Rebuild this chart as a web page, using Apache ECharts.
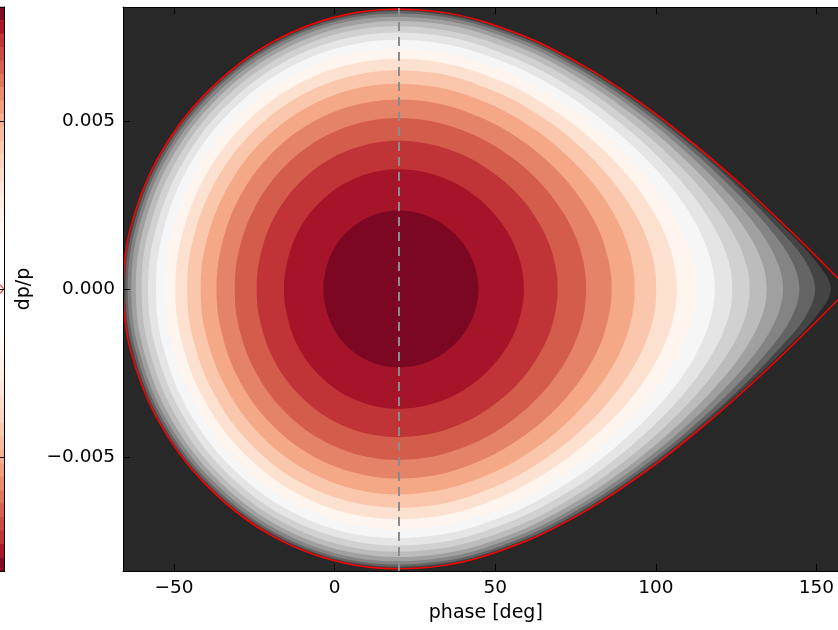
<!DOCTYPE html>
<html><head><meta charset="utf-8">
<script src="https://cdn.jsdelivr.net/npm/echarts@6/dist/echarts.min.js"></script>
<style>html,body{margin:0;padding:0;background:#fff}#c{width:838px;height:630px}</style>
</head><body><div id="c"></div>
<script>
// ---- data: [phase deg, dp/p] along the upper half of each contour (shape is mirror-symmetric in dp/p) ----
const contour1=[[-3.5,0],[-3.0,0.00047],[-0.9,0.00107],[3.0,0.00162],[9.0,0.00207],[16.2,0.00231],[23.8,0.00231],[30.7,0.00210],[36.0,0.00176],[39.8,0.00138],[42.3,0.00100],[43.7,0.00065],[44.4,0.00037],[44.7,0.00017],[44.8,0]];
const contour2=[[-15.8,0],[-15.0,0.00071],[-11.9,0.00162],[-5.8,0.00247],[3.2,0.00315],[14.2,0.00352],[25.8,0.00352],[36.3,0.00321],[44.6,0.00271],[50.6,0.00213],[54.7,0.00155],[57.1,0.00102],[58.3,0.00058],[58.8,0.00026],[58.9,0]];
const contour3=[[-24.3,0],[-23.4,0.00088],[-19.5,0.00201],[-12.0,0.00306],[-0.8,0.00391],[12.8,0.00436],[27.2,0.00436],[40.3,0.00398],[50.6,0.00337],[58.4,0.00267],[63.7,0.00195],[67.0,0.00129],[68.6,0.00074],[69.3,0.00033],[69.4,0]];
const contour4=[[-31.1,0],[-30.1,0.00102],[-25.5,0.00231],[-16.8,0.00353],[-4.0,0.00450],[11.7,0.00503],[28.3,0.00503],[43.4,0.00459],[55.4,0.00390],[64.6,0.00310],[71.1,0.00228],[75.2,0.00151],[77.3,0.00087],[78.1,0.00039],[78.3,0]];
const contour5=[[-36.8,0],[-35.6,0.00113],[-30.5,0.00257],[-20.9,0.00391],[-6.6,0.00499],[10.8,0.00557],[29.2,0.00558],[45.9,0.00509],[59.4,0.00434],[69.9,0.00347],[77.5,0.00256],[82.4,0.00171],[84.9,0.00098],[86.0,0.00044],[86.2,0]];
const contour6=[[-41.7,0],[-40.4,0.00123],[-34.7,0.00278],[-24.3,0.00423],[-8.8,0.00540],[10.0,0.00604],[30.0,0.00604],[48.1,0.00552],[62.8,0.00472],[74.4,0.00378],[83.1,0.00281],[88.8,0.00189],[91.9,0.00109],[93.1,0.00049],[93.4,0]];
const contour7=[[-45.9,0],[-44.5,0.00131],[-38.4,0.00297],[-27.2,0.00451],[-10.7,0.00576],[9.4,0.00643],[30.7,0.00644],[50.0,0.00588],[65.8,0.00504],[78.4,0.00406],[88.0,0.00303],[94.6,0.00205],[98.3,0.00119],[99.8,0.00053],[100.1,0]];
const contour8=[[-49.6,0],[-48.1,0.00138],[-41.6,0.00313],[-29.7,0.00475],[-12.3,0.00606],[8.8,0.00677],[31.2,0.00678],[51.6,0.00620],[68.3,0.00532],[81.9,0.00430],[92.5,0.00323],[99.9,0.00219],[104.2,0.00128],[106.0,0.00058],[106.5,0]];
const contour9=[[-52.8,0],[-51.2,0.00145],[-44.4,0.00327],[-31.9,0.00496],[-13.7,0.00633],[8.3,0.00707],[31.7,0.00707],[53.0,0.00648],[70.6,0.00557],[85.0,0.00452],[96.4,0.00341],[104.8,0.00233],[109.8,0.00136],[111.9,0.00062],[112.5,0]];
const contour10=[[-55.6,0],[-54.0,0.00150],[-46.8,0.00340],[-33.8,0.00515],[-14.9,0.00656],[7.9,0.00733],[32.1,0.00733],[54.2,0.00671],[72.5,0.00578],[87.6,0.00470],[100.0,0.00357],[109.3,0.00245],[115.0,0.00144],[117.6,0.00065],[118.3,0]];
const contour11=[[-58.1,0],[-56.3,0.00155],[-48.8,0.00350],[-35.4,0.00530],[-16.0,0.00675],[7.5,0.00754],[32.5,0.00755],[55.2,0.00691],[74.2,0.00596],[90.0,0.00486],[103.1,0.00371],[113.3,0.00256],[119.9,0.00151],[123.0,0.00069],[123.8,0]];
const contour12=[[-60.1,0],[-58.3,0.00159],[-50.6,0.00359],[-36.8,0.00543],[-16.8,0.00692],[7.2,0.00773],[32.8,0.00773],[56.1,0.00709],[75.6,0.00612],[92.0,0.00500],[105.8,0.00383],[116.9,0.00266],[124.5,0.00158],[128.2,0.00072],[129.2,0]];
const contour13=[[-61.9,0],[-60.0,0.00163],[-52.1,0.00367],[-37.9,0.00554],[-17.6,0.00705],[7.0,0.00788],[33.1,0.00789],[56.9,0.00723],[76.7,0.00625],[93.7,0.00512],[108.2,0.00393],[120.1,0.00275],[128.7,0.00165],[133.2,0.00076],[134.5,0]];
const contour14=[[-63.3,0],[-61.4,0.00165],[-53.3,0.00373],[-38.8,0.00563],[-18.2,0.00716],[6.7,0.00801],[33.3,0.00801],[57.4,0.00734],[77.7,0.00635],[95.0,0.00522],[110.1,0.00402],[122.8,0.00282],[132.5,0.00171],[137.9,0.00079],[139.6,0]];
const contour15=[[-64.4,0],[-62.4,0.00168],[-54.2,0.00377],[-39.6,0.00570],[-18.6,0.00725],[6.6,0.00810],[33.4,0.00811],[57.9,0.00743],[78.4,0.00643],[96.1,0.00529],[111.6,0.00409],[125.0,0.00288],[135.8,0.00175],[142.4,0.00082],[144.7,0]];
const contour16=[[-65.2,0],[-63.2,0.00169],[-54.9,0.00381],[-40.1,0.00575],[-18.9,0.00731],[6.5,0.00817],[33.5,0.00818],[58.2,0.00750],[79.0,0.00649],[96.9,0.00534],[112.7,0.00414],[126.7,0.00293],[138.3,0.00179],[146.4,0.00085],[149.6,0]];
const contour17=[[-65.7,0],[-63.7,0.00170],[-55.3,0.00383],[-40.4,0.00578],[-19.1,0.00735],[6.4,0.00821],[33.6,0.00822],[58.4,0.00754],[79.3,0.00653],[97.3,0.00538],[113.4,0.00417],[127.7,0.00295],[140.1,0.00182],[149.4,0.00087],[154.5,0]];
const separatrix=[[-65.9,0],[-63.9,0.00171],[-55.4,0.00384],[-40.5,0.00579],[-19.2,0.00737],[6.4,0.00823],[33.6,0.00824],[58.5,0.00755],[79.4,0.00654],[97.5,0.00539],[113.6,0.00418],[128.1,0.00297],[140.8,0.00183],[150.9,0.00088],[160.0,0]];
const syncPhase=20;
// colour-strip values of the cut-off left panel (colormap position, top to bottom)
const stripValues=[0.04,0.09,0.14,0.17,0.20,0.23,0.265,0.29,0.32,0.345,0.37,0.39,0.405,0.43,0.45,0.465,0.48,0.49,0.50,0.50,0.50,
                   0.50,0.50,0.50,0.49,0.48,0.465,0.45,0.43,0.405,0.39,0.37,0.345,0.32,0.29,0.265,0.23,0.20,0.17,0.14,0.09,0.04];
const xTickValues=[-50,0,50,100,150];
const xTickLabels=['\u221250','0','50','100','150'];
const yTickValues=[-0.005,0,0.005];
const yTickLabels=['\u22120.005','0.000','0.005'];
const xRange=[-65.9,160];
const yRange=[-0.0084,0.0084];

// ---- styles ----
const bandColors=['#7c0722','#a61429','#c03438','#d45c4b','#e58368','#f5a886','#fac6ac','#fde1d0','#fef5ef',
                  '#f6f6f6','#e5e5e5','#d1d1d1','#bcbcbc','#a0a0a0','#848484','#646464','#444444'];
const outsideColor='#282828';
const rdgy=['#67001f','#b2182b','#d6604d','#f4a582','#fddbc7','#ffffff','#e0e0e0','#bababa','#878787','#4d4d4d','#1a1a1a'];
const FONT='DejaVu Sans';

const contours=[contour1,contour2,contour3,contour4,contour5,contour6,contour7,contour8,contour9,
                contour10,contour11,contour12,contour13,contour14,contour15,contour16,contour17];

// upper-half points through the axes, lower half mirrored about the dp/p = 0 line
function halves(params,api){
  const n=params.dataInsideLength, up=[];
  for(let i=0;i<n;i++) up.push(api.coord([api.value(0,i),api.value(1,i)]));
  const y0=api.coord([0,0])[1];
  const low=up.map(function(p){return [p[0],2*y0-p[1]];});
  return {up:up,low:low};
}
function fillRenderer(color){
  return function(params,api){
    if(params.dataIndexInside!==0) return;
    const h=halves(params,api), pts=h.up.slice();
    for(let i=h.low.length-2;i>=1;i--) pts.push(h.low[i]);
    return {type:'polygon',shape:{points:pts,smooth:0.35},style:{fill:color,stroke:null},silent:true};
  };
}
function lineRenderer(params,api){
  if(params.dataIndexInside!==0) return;
  const h=halves(params,api);
  const st={fill:null,stroke:'#ff0000',lineWidth:1.5};
  return {type:'group',children:[
    {type:'polyline',shape:{points:h.up,smooth:0.35},style:st,silent:true},
    {type:'polyline',shape:{points:h.low,smooth:0.35},style:st,silent:true}]};
}

const series=[];
for(let k=contours.length-1;k>=0;k--){
  series.push({type:'custom',coordinateSystem:'cartesian2d',xAxisIndex:0,yAxisIndex:0,data:contours[k],encode:{x:0,y:1},
    renderItem:fillRenderer(bandColors[k]),silent:true,animation:false,clip:true,z:3+(contours.length-1-k)});
}
series.push({type:'custom',coordinateSystem:'cartesian2d',xAxisIndex:0,yAxisIndex:0,data:separatrix,encode:{x:0,y:1},
  renderItem:lineRenderer,silent:true,animation:false,clip:true,z:30,
  markLine:{silent:true,z:35,symbol:['none','none'],label:{show:false},animation:false,
    lineStyle:{color:'#8c8c8c',type:[9,6],width:2},data:[{xAxis:syncPhase}]}});
const heatIndex=series.length;
series.push({type:'heatmap',xAxisIndex:2,yAxisIndex:1,data:stripValues.map(function(v,i){return [0,i,v];}),
  itemStyle:{borderWidth:0},silent:true,animation:false,z:2});
series.push({type:'scatter',xAxisIndex:3,yAxisIndex:2,data:[[1,0]],symbol:'path://M0,0 L2,0 L7,4.5 L2,9 L0,9 L5,4.5 Z',
  symbolSize:[5,9],symbolOffset:[-2.5,0],itemStyle:{color:'#ff0000'},silent:true,animation:false,clip:false,z:40});

function nearestLabel(vals,labels,v){let b=0;for(let i=1;i<vals.length;i++){if(Math.abs(vals[i]-v)<Math.abs(vals[b]-v))b=i;}return labels[b];}
const axLine={show:true,onZero:false,lineStyle:{color:'#000',width:1}};
const tickIn={show:true,inside:true,length:7,lineStyle:{color:'#000',width:1}};

const option={
  animation:false,
  textStyle:{fontFamily:FONT},
  grid:[
    {left:123,top:7,width:(xRange[1]-xRange[0])*3.212,height:564,show:true,backgroundColor:outsideColor,borderWidth:0,outerBoundsMode:'none',containLabel:false},
    {left:-100,top:7,width:104.5,height:564,show:false,outerBoundsMode:'none',containLabel:false}
  ],
  visualMap:[{type:'continuous',show:false,seriesIndex:heatIndex,dimension:2,min:0,max:1,inRange:{color:rdgy}}],
  xAxis:[
    {type:'value',gridIndex:0,position:'bottom',min:xRange[0],max:xRange[1],z:50,axisLine:axLine,
     axisTick:Object.assign({customValues:xTickValues},tickIn),splitLine:{show:false},
     axisLabel:{customValues:xTickValues,formatter:function(v){return nearestLabel(xTickValues,xTickLabels,v);},
       color:'#000',fontSize:18.5,fontFamily:FONT,margin:8},
     name:'phase [deg]',nameLocation:'middle',nameGap:33,nameTextStyle:{color:'#000',fontSize:19,fontFamily:FONT}},
    {type:'value',gridIndex:0,position:'top',min:xRange[0],max:xRange[1],z:50,axisLine:axLine,
     axisTick:Object.assign({customValues:xTickValues},tickIn),axisLabel:{show:false},splitLine:{show:false}},
    {type:'category',gridIndex:1,position:'bottom',data:['strip'],z:50,axisLine:axLine,axisTick:{show:false},axisLabel:{show:false},splitLine:{show:false}},
    {type:'value',gridIndex:1,position:'top',min:0,max:1,z:50,axisLine:axLine,axisTick:{show:false},axisLabel:{show:false},splitLine:{show:false}}
  ],
  yAxis:[
    {type:'value',gridIndex:0,position:'left',min:yRange[0],max:yRange[1],z:50,axisLine:axLine,
     axisTick:Object.assign({customValues:yTickValues},tickIn),splitLine:{show:false},
     axisLabel:{customValues:yTickValues,formatter:function(v){return nearestLabel(yTickValues,yTickLabels,v);},
       color:'#000',fontSize:18.5,fontFamily:FONT,margin:8},
     name:'dp/p',nameLocation:'middle',nameGap:89,nameRotate:90,nameTextStyle:{color:'#000',fontSize:19,fontFamily:FONT}},
    {type:'category',gridIndex:1,inverse:true,data:stripValues.map(function(v,i){return i;}),show:false},
    {type:'value',gridIndex:1,position:'right',min:yRange[0],max:yRange[1],z:50,axisLine:axLine,
     axisTick:Object.assign({customValues:yTickValues},tickIn),axisLabel:{show:false},splitLine:{show:false}}
  ],
  series:series
};
const chart=echarts.init(document.getElementById('c'),null,{renderer:'canvas'});
chart.setOption(option);
</script></body></html>
